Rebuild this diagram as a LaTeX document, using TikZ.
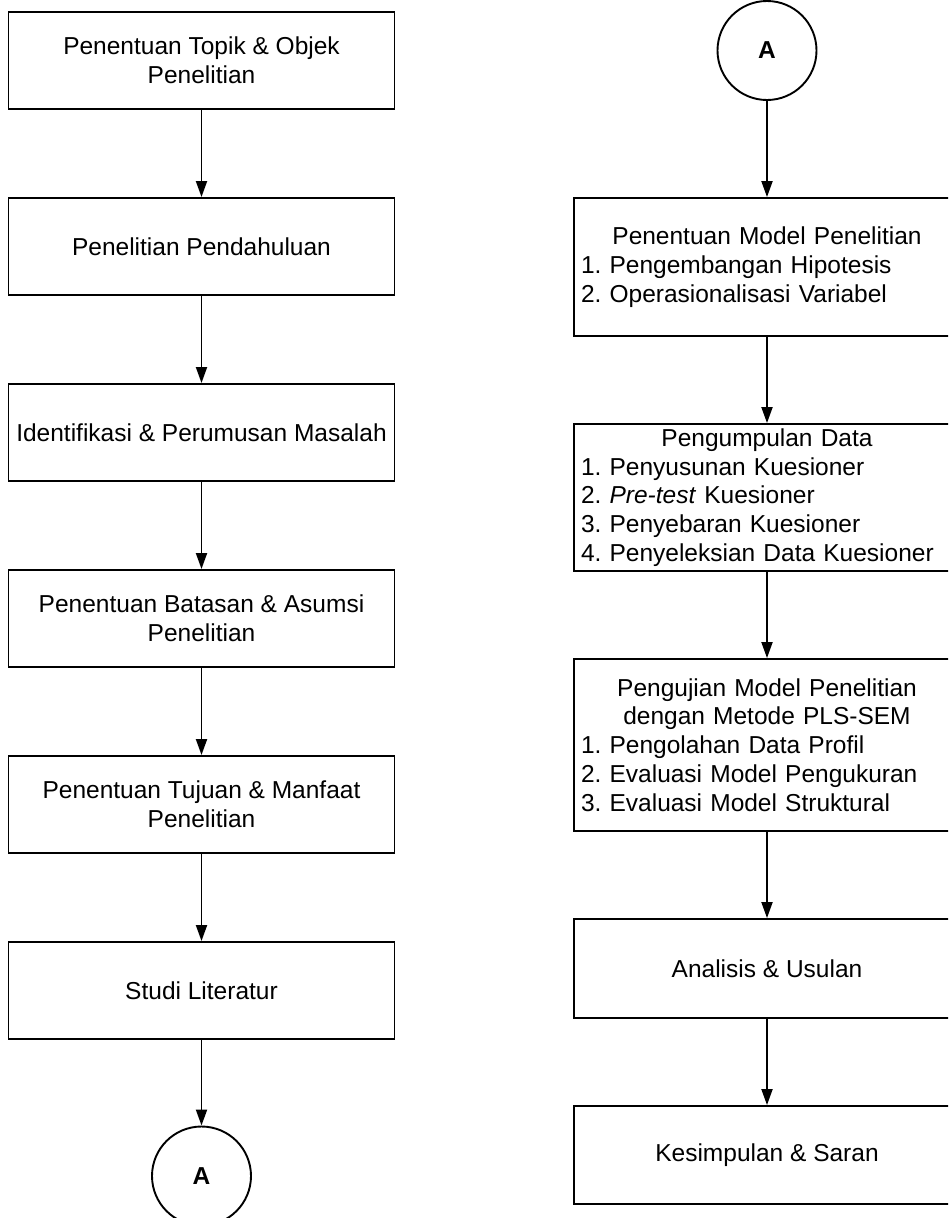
\documentclass[tikz,border=0pt]{standalone}
\usepackage{fontspec}
\setmainfont{Liberation Sans}
\usetikzlibrary{arrows.meta}
\frenchspacing
\tikzset{
  every node/.style={font=\fontsize{24.5}{28.8}\selectfont},
  procbox/.style={draw=black, line width=1.9pt, rectangle, minimum width=386pt, inner sep=0pt, align=center},
  listbox/.style={draw=black, line width=1.9pt, rectangle, minimum width=386pt, text width=372pt, inner xsep=7pt, inner ysep=0pt, align=left},
  connector/.style={draw=black, line width=1.9pt, circle, minimum size=99pt, inner sep=0pt, font=\fontsize{24.5}{28.8}\selectfont\bfseries},
  flow/.style={line width=1.9pt, -{Triangle[length=16pt, width=11pt]}}
}
\begin{document}
\begin{tikzpicture}[x=1pt, y=-1pt]
\useasboundingbox (0,0) rectangle (948,1218);
\clip (0,0) rectangle (948,1218);
% left column
\node[procbox, minimum height=97pt] (b1) at (201.5,60.5) {Penentuan Topik \& Objek\\Penelitian};
\node[procbox, minimum height=97pt] (b2) at (201.5,246.5) {Penelitian Pendahuluan};
\node[procbox, minimum height=97pt] (b3) at (201.5,432.5) {Identifikasi \& Perumusan Masalah};
\node[procbox, minimum height=97pt] (b4) at (201.5,618.5) {Penentuan Batasan \& Asumsi\\Penelitian};
\node[procbox, minimum height=97pt] (b5) at (201.5,804.5) {Penentuan Tujuan \& Manfaat\\Penelitian};
\node[procbox, minimum height=97pt] (b6) at (201.5,990.5) {Studi Literatur};
\node[connector] (ca) at (201.5,1176) {A};
% right column
\node[connector] (cb) at (767,50.5) {A};
\node[listbox, minimum height=138pt] (r1) at (767,267) {\makebox[372pt]{Penentuan Model Penelitian}\\1. Pengembangan Hipotesis\\2. Operasionalisasi Variabel};
\node[listbox, minimum height=147pt] (r2) at (767,497.5) {\makebox[372pt]{Pengumpulan Data}\\1. Penyusunan Kuesioner\\2. \textit{Pre-test} Kuesioner\\3. Penyebaran Kuesioner\\4. Penyeleksian Data Kuesioner};
\node[listbox, minimum height=172pt] (r3) at (767,745) {\makebox[372pt]{Pengujian Model Penelitian}\\\makebox[372pt]{dengan Metode PLS-SEM}\\1. Pengolahan Data Profil\\2. Evaluasi Model Pengukuran\\3. Evaluasi Model Struktural};
\node[procbox, minimum height=99pt] (r4) at (767,968.5) {Analisis \& Usulan};
\node[procbox, minimum height=98pt] (r5) at (767,1155) {Kesimpulan \& Saran};
% connectors
\draw[flow] (b1) -- (b2);
\draw[flow] (b2) -- (b3);
\draw[flow] (b3) -- (b4);
\draw[flow] (b4) -- (b5);
\draw[flow] (b5) -- (b6);
\draw[flow] (b6) -- (ca);
\draw[flow] (cb) -- (r1);
\draw[flow] (r1) -- (r2);
\draw[flow] (r2) -- (r3);
\draw[flow] (r3) -- (r4);
\draw[flow] (r4) -- (r5);
\end{tikzpicture}
\end{document}
